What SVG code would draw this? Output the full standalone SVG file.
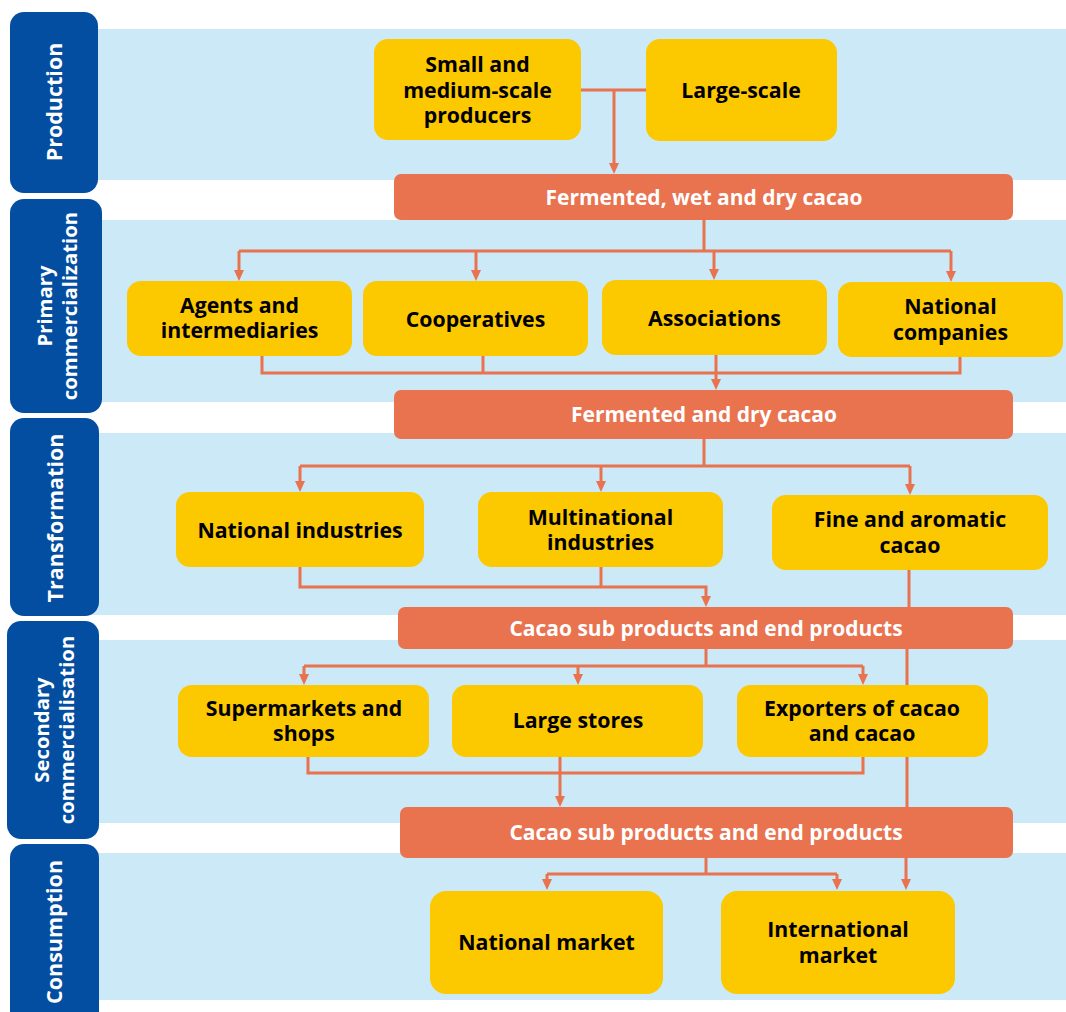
<svg xmlns="http://www.w3.org/2000/svg" width="1066" height="1012" viewBox="0 0 1066 1012">
  <style>
    .band { fill: #CCE9F7; }
    .tab { fill: #044EA1; }
    .tab-text { fill: #FFFFFF; font-family: "Open Sans", "Noto Sans", "Liberation Sans", sans-serif; font-weight: 700; font-size: 21.5px; text-anchor: middle; }
    .tab-text.two { font-size: 20.3px; }
    .node { fill: #FCC800; }
    .node-text { fill: #000000; font-family: "Open Sans", "Noto Sans", "Liberation Sans", sans-serif; font-weight: 700; font-size: 21.3px; text-anchor: middle; }
    .bar { fill: #E9724F; }
    .bar-text { fill: #FFFFFF; font-family: "Open Sans", "Noto Sans", "Liberation Sans", sans-serif; font-weight: 700; font-size: 21px; text-anchor: middle; }
    .link { fill: none; stroke: #E9724F; stroke-width: 3; }
  </style>
  <defs>
    <marker id="arrow" viewBox="0 0 11 10" refX="3" refY="5" markerWidth="11" markerHeight="10" markerUnits="userSpaceOnUse" orient="auto">
      <path d="M0,0 L11,5 L0,10 z" fill="#E9724F"/>
    </marker>
  </defs>

  <!-- stage bands -->
  <g id="bands">
    <rect class="band" x="90" y="29" width="976" height="151"/>
    <rect class="band" x="90" y="220" width="976" height="182"/>
    <rect class="band" x="90" y="433" width="976" height="182"/>
    <rect class="band" x="90" y="640" width="976" height="183"/>
    <rect class="band" x="90" y="853" width="976" height="147"/>
  </g>

  <!-- stage labels -->
  <g id="stage-production">
    <rect class="tab" x="10" y="12" width="88" height="181" rx="14"/>
    <text class="tab-text" transform="translate(54,102) rotate(-90)" y="8">Production</text>
  </g>
  <g id="stage-primary">
    <rect class="tab" x="10" y="199" width="92" height="214" rx="14"/>
    <text class="tab-text two" transform="translate(56,306) rotate(-90)"><tspan x="0" y="-4">Primary</tspan><tspan x="0" y="21">commercialization</tspan></text>
  </g>
  <g id="stage-transformation">
    <rect class="tab" x="10" y="418" width="89" height="198" rx="14"/>
    <text class="tab-text" transform="translate(55,518) rotate(-90)" y="8">Transformation</text>
  </g>
  <g id="stage-secondary">
    <rect class="tab" x="7" y="621" width="92" height="218" rx="14"/>
    <text class="tab-text two" transform="translate(53,730) rotate(-90)"><tspan x="0" y="-4">Secondary</tspan><tspan x="0" y="21">commercialisation</tspan></text>
  </g>
  <g id="stage-consumption">
    <rect class="tab" x="10" y="844" width="89" height="190" rx="14"/>
    <text class="tab-text" transform="translate(54,932) rotate(-90)" y="8">Consumption</text>
  </g>

  <!-- connectors -->
  <g id="connectors">
    <!-- producers to first product bar -->
    <path class="link" d="M581,90 H646"/>
    <path class="link" d="M614,90 V166" marker-end="url(#arrow)"/>
    <!-- fermented, wet and dry cacao to primary buyers -->
    <path class="link" d="M704,220 V251"/>
    <path class="link" d="M239,251 H951"/>
    <path class="link" d="M239,251 V273" marker-end="url(#arrow)"/>
    <path class="link" d="M476,251 V273" marker-end="url(#arrow)"/>
    <path class="link" d="M714,251 V272" marker-end="url(#arrow)"/>
    <path class="link" d="M951,251 V274" marker-end="url(#arrow)"/>
    <!-- primary buyers to fermented and dry cacao -->
    <path class="link" d="M262,356 V373 H960 V357"/>
    <path class="link" d="M483,356 V373"/>
    <path class="link" d="M716,355 V382" marker-end="url(#arrow)"/>
    <!-- fermented and dry cacao to industries -->
    <path class="link" d="M704,439 V466"/>
    <path class="link" d="M300,466 H910"/>
    <path class="link" d="M300,466 V484" marker-end="url(#arrow)"/>
    <path class="link" d="M601,466 V484" marker-end="url(#arrow)"/>
    <path class="link" d="M910,466 V487" marker-end="url(#arrow)"/>
    <!-- industries to sub products -->
    <path class="link" d="M300,567 V587 H706 V599" marker-end="url(#arrow)"/>
    <path class="link" d="M601,567 V587"/>
    <!-- fine and aromatic cacao straight to international market -->
    <path class="link" d="M909,570 V607 M907,649 V685 M907,757 V807 M906,858 V882" marker-end="url(#arrow)"/>
    <!-- sub products to retail and export -->
    <path class="link" d="M706,649 V666"/>
    <path class="link" d="M304,666 H863"/>
    <path class="link" d="M304,666 V677" marker-end="url(#arrow)"/>
    <path class="link" d="M578,666 V677" marker-end="url(#arrow)"/>
    <path class="link" d="M863,666 V677" marker-end="url(#arrow)"/>
    <!-- retail and export to end products -->
    <path class="link" d="M308,757 V773 H863 V757"/>
    <path class="link" d="M560,757 V799" marker-end="url(#arrow)"/>
    <!-- end products to markets -->
    <path class="link" d="M706,858 V874"/>
    <path class="link" d="M547,874 H837"/>
    <path class="link" d="M547,874 V882" marker-end="url(#arrow)"/>
    <path class="link" d="M837,874 V882" marker-end="url(#arrow)"/>
  </g>

  <!-- product bars -->
  <g id="bar-fermented-wet-dry">
    <rect class="bar" x="394" y="174" width="619" height="46" rx="7"/>
    <text class="bar-text" x="704" y="204.5">Fermented, wet and dry cacao</text>
  </g>
  <g id="bar-fermented-dry">
    <rect class="bar" x="394" y="390" width="619" height="49" rx="7"/>
    <text class="bar-text" x="704" y="421.5">Fermented and dry cacao</text>
  </g>
  <g id="bar-sub-products-1">
    <rect class="bar" x="398" y="607" width="615" height="42" rx="7"/>
    <text class="bar-text" x="706" y="635.5">Cacao sub products and end products</text>
  </g>
  <g id="bar-sub-products-2">
    <rect class="bar" x="400" y="807" width="613" height="51" rx="7"/>
    <text class="bar-text" x="706" y="839.5">Cacao sub products and end products</text>
  </g>

  <!-- actors -->
  <g id="node-small-medium">
    <rect class="node" x="374" y="39" width="207" height="101" rx="14"/>
    <text class="node-text"><tspan x="477.5" y="71.5">Small and</tspan><tspan x="477.5" y="97.5">medium-scale</tspan><tspan x="477.5" y="122.5">producers</tspan></text>
  </g>
  <g id="node-large-scale">
    <rect class="node" x="646" y="39" width="191" height="102" rx="14"/>
    <text class="node-text" x="741" y="97.5">Large-scale</text>
  </g>
  <g id="node-agents">
    <rect class="node" x="127" y="281" width="225" height="75" rx="14"/>
    <text class="node-text"><tspan x="239.5" y="312.5">Agents and</tspan><tspan x="239.5" y="337.5">intermediaries</tspan></text>
  </g>
  <g id="node-cooperatives">
    <rect class="node" x="363" y="281" width="225" height="75" rx="14"/>
    <text class="node-text" x="475.5" y="326.5">Cooperatives</text>
  </g>
  <g id="node-associations">
    <rect class="node" x="602" y="280" width="225" height="75" rx="14"/>
    <text class="node-text" x="714.5" y="325.5">Associations</text>
  </g>
  <g id="node-national-companies">
    <rect class="node" x="838" y="282" width="225" height="75" rx="14"/>
    <text class="node-text"><tspan x="950.5" y="313.5">National</tspan><tspan x="950.5" y="339.5">companies</tspan></text>
  </g>
  <g id="node-national-industries">
    <rect class="node" x="176" y="492" width="248" height="75" rx="14"/>
    <text class="node-text" x="300" y="537.5">National industries</text>
  </g>
  <g id="node-multinational-industries">
    <rect class="node" x="478" y="492" width="245" height="75" rx="14"/>
    <text class="node-text"><tspan x="600.5" y="524.5">Multinational</tspan><tspan x="600.5" y="549.5">industries</tspan></text>
  </g>
  <g id="node-fine-aromatic">
    <rect class="node" x="772" y="495" width="276" height="75" rx="14"/>
    <text class="node-text"><tspan x="910" y="526.5">Fine and aromatic</tspan><tspan x="910" y="552.5">cacao</tspan></text>
  </g>
  <g id="node-supermarkets">
    <rect class="node" x="178" y="685" width="251" height="72" rx="14"/>
    <text class="node-text"><tspan x="304" y="715.5">Supermarkets and</tspan><tspan x="304" y="740.5">shops</tspan></text>
  </g>
  <g id="node-large-stores">
    <rect class="node" x="452" y="685" width="251" height="72" rx="14"/>
    <text class="node-text" x="578" y="727.5">Large stores</text>
  </g>
  <g id="node-exporters">
    <rect class="node" x="737" y="685" width="251" height="72" rx="14"/>
    <text class="node-text"><tspan x="862" y="715.5">Exporters of cacao</tspan><tspan x="862" y="740.5">and cacao</tspan></text>
  </g>
  <g id="node-national-market">
    <rect class="node" x="430" y="891" width="233" height="103" rx="16"/>
    <text class="node-text" x="546.5" y="949.5">National market</text>
  </g>
  <g id="node-international-market">
    <rect class="node" x="721" y="891" width="234" height="103" rx="16"/>
    <text class="node-text"><tspan x="838" y="936.5">International</tspan><tspan x="838" y="962.5">market</tspan></text>
  </g>
</svg>
